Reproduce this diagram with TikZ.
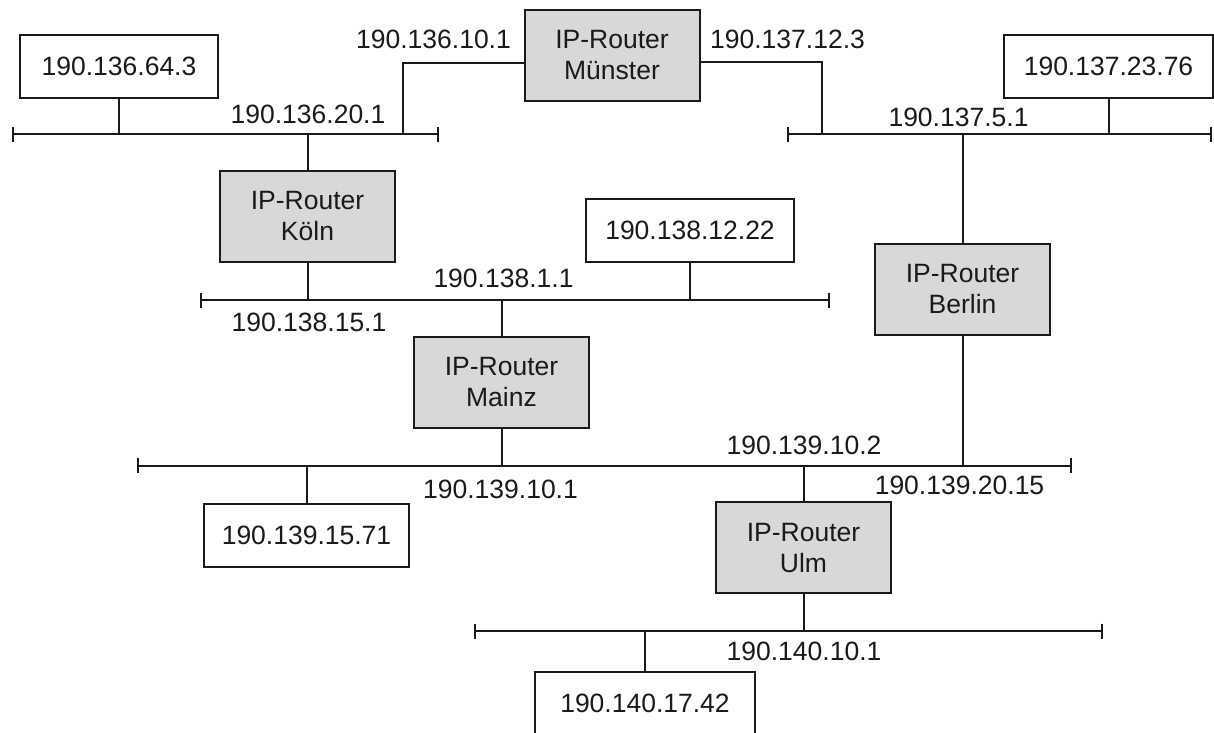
\documentclass[tikz,border=0pt]{standalone}
\usepackage{fontspec}
\setmainfont{Liberation Sans}
\usetikzlibrary{arrows.meta}
\definecolor{routerfill}{HTML}{D8D8D8}
\definecolor{ink}{HTML}{1A1A1A}
\begin{document}
\begin{tikzpicture}[x=1pt,y=-1pt,
  every node/.style={font=\fontsize{26.5}{31}\selectfont, text=ink, inner sep=0pt},
  host/.style={draw=ink, line width=2pt, minimum height=63pt, fill=white},
  router/.style={draw=ink, line width=2pt, fill=routerfill, minimum width=175pt, minimum height=91pt, align=center},
  bus/.style={draw=ink, line width=2pt, {Bar[width=15pt]}-{Bar[width=15pt]}},
  wire/.style={draw=ink, line width=2pt},
  lbl/.style={}]
\useasboundingbox (0,0) rectangle (1214,732);

% buses
\coordinate (b1l) at (12,134);   \coordinate (b1r) at (439,134);
\coordinate (b2l) at (787,134);  \coordinate (b2r) at (1212,134);
\coordinate (b3l) at (200,300);  \coordinate (b3r) at (830,300);
\coordinate (b4l) at (137,465.5);\coordinate (b4r) at (1072,465.5);
\coordinate (b5l) at (474,631);  \coordinate (b5r) at (1103,631);
\draw[bus] (b1l) -- (b1r);
\draw[bus] (b2l) -- (b2r);
\draw[bus] (b3l) -- (b3r);
\draw[bus] (b4l) -- (b4r);
\draw[bus] (b5l) -- (b5r);

% hosts
\node[host, minimum width=198pt] (h1) at (119,66.5) {190.136.64.3};
\node[host, minimum width=209pt] (h2) at (1108.5,66.5) {190.137.23.76};
\node[host, minimum width=208pt] (h3) at (690,230.5) {190.138.12.22};
\node[host, minimum width=205pt] (h4) at (306.5,535.5) {190.139.15.71};
\node[host, minimum width=220pt] (h5) at (645,703.5) {190.140.17.42};

% routers
\node[router] (mu) at (612,55.5) {IP-Router\\Münster};
\node[router] (ko) at (307.5,216.5) {IP-Router\\Köln};
\node[router] (mz) at (501.5,382.5) {IP-Router\\Mainz};
\node[router] (be) at (962.5,289.5) {IP-Router\\Berlin};
\node[router] (ul) at (803.5,547.5) {IP-Router\\Ulm};

% tap points
\coordinate (t1) at (403,134);
\coordinate (t2) at (822,134);

% connectors
\draw[wire] (h1.south) -- (h1.south |- b1l);
\draw[wire] (ko.north) -- (ko.north |- b1l);
\draw[wire] ([yshift=-7.5pt]mu.west) -| (t1);
\draw[wire] ([yshift=-6.5pt]mu.east) -| (t2);
\draw[wire] (h2.south) -- (h2.south |- b2l);
\draw[wire] (be.north) -- (be.north |- b2l);
\draw[wire] (be.south) -- (be.south |- b4l);
\draw[wire] (ko.south) -- (ko.south |- b3l);
\draw[wire] (h3.south) -- (h3.south |- b3l);
\draw[wire] (mz.north) -- (mz.north |- b3l);
\draw[wire] (mz.south) -- (mz.south |- b4l);
\draw[wire] (h4.north) -- (h4.north |- b4l);
\draw[wire] (ul.north) -- (ul.north |- b4l);
\draw[wire] (ul.south) -- (ul.south |- b5l);
\draw[wire] (h5.north) -- (h5.north |- b5l);

% labels
\node[lbl] (l1) at (433.5,39) {190.136.10.1};
\node[lbl] (l2) at (787.5,39) {190.137.12.3};
\node[lbl] (l3) at (308,114) {190.136.20.1};
\node[lbl] (l4) at (958.5,117) {190.137.5.1};
\node[lbl] (l5) at (503.5,278) {190.138.1.1};
\node[lbl] (l6) at (309,322) {190.138.15.1};
\node[lbl] (l7) at (804,445) {190.139.10.2};
\node[lbl] (l8) at (500.5,489) {190.139.10.1};
\node[lbl] (l9) at (959.5,485) {190.139.20.15};
\node[lbl] (l10) at (804,651) {190.140.10.1};
\end{tikzpicture}
\end{document}
